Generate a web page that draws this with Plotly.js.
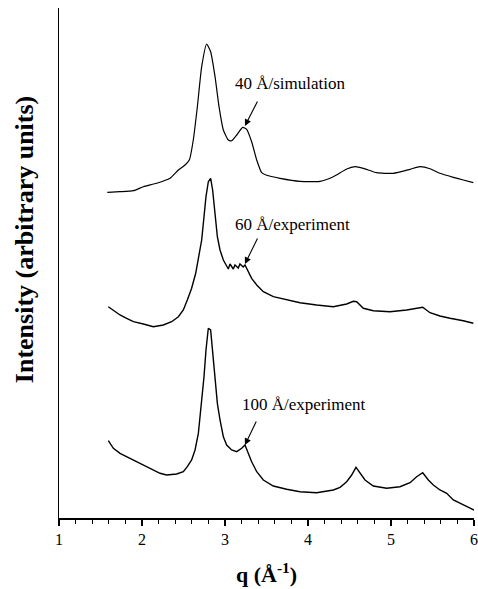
<!DOCTYPE html>
<html>
<head>
<meta charset="utf-8">
<script src="https://cdn.plot.ly/plotly-3.0.1.min.js"></script>
<style>html,body{margin:0;padding:0;background:#fff;}#chart{width:478px;height:589px;}</style>
</head>
<body>
<div id="chart"></div>
<script>
// q values (Å^-1) and intensities (arbitrary units, curves offset vertically)
const qSim = [1.582,1.735,1.896,2.016,2.177,2.337,2.438,2.518,2.570,2.618,2.667,2.719,2.779,2.827,2.880,2.928,2.980,3.040,3.080,3.141,3.213,3.261,3.321,3.382,3.442,3.502,3.663,3.904,4.145,4.305,4.466,4.566,4.667,4.827,5.028,5.229,5.349,5.470,5.590,5.751,5.871,5.992];
const iSim = [325.7,326.3,327.3,331.3,334.7,339.7,348,353,358,378,411.3,451.3,474,466.3,441.3,411.3,388,378,377.3,383,390.7,388.7,376.3,358,345.3,342.7,339.7,336.7,336.7,341.3,349,351.3,349.7,345.3,344.7,348.7,351.3,349.3,344.7,340.7,338,335.3];

const q60 = [1.594,1.675,1.735,1.815,1.896,2.016,2.137,2.257,2.357,2.438,2.498,2.546,2.598,2.647,2.687,2.719,2.747,2.771,2.799,2.827,2.851,2.880,2.908,2.940,2.980,3.020,3.040,3.060,3.080,3.100,3.120,3.141,3.160,3.180,3.201,3.220,3.241,3.281,3.321,3.382,3.462,3.582,3.743,3.904,4.104,4.305,4.466,4.546,4.586,4.667,4.787,4.988,5.189,5.309,5.382,5.470,5.590,5.711,5.871,5.992];
const i60 = [211.3,206.3,203,199.7,196.3,194,191.3,193,196.3,201.3,208,218,229.7,244.7,261.3,278,301.3,321.3,336.3,339.7,328,304.7,281.3,268,258,252,249,254,250.7,249,253,251.3,250,254,252,251,253,246.3,239.7,233,226.3,221.3,218,215.3,213,211.3,214,216.7,216.3,209.7,207.3,206.3,208,209.7,210.7,205.3,202,199.7,197.3,194.7];

const q100 = [1.594,1.655,1.735,1.815,1.896,1.976,2.056,2.137,2.217,2.297,2.418,2.498,2.546,2.598,2.639,2.679,2.719,2.747,2.771,2.799,2.827,2.851,2.880,2.908,2.940,2.980,3.020,3.080,3.141,3.201,3.241,3.281,3.321,3.382,3.462,3.582,3.743,3.904,4.104,4.305,4.386,4.466,4.526,4.578,4.627,4.687,4.787,4.948,5.108,5.229,5.309,5.382,5.450,5.510,5.590,5.671,5.751,5.831,5.912,6.0];
const i100 = [77.3,69.7,64.7,61.3,58,54.7,51.3,48,44.7,43,44,46.3,51.3,58,68,84.7,114.7,141.3,168,189.7,188,168,141.3,114.7,98,81.3,73,68,66.3,69.7,73,64.7,56.3,46.3,38,32,28.7,26.3,25.3,28,30.7,36.3,43,50.7,44.7,38,32,29.7,31.3,35.3,41.3,45.3,38,33,28,24.7,18,14.7,11.3,8];

const labels = ['40 Å/simulation','60 Å/experiment','100 Å/experiment'];
const xTicks = [1,2,3,4,5,6];

const serif = '"Liberation Serif", "Times New Roman", Times, serif';
const simLine = {color:'#000', width:1.2, shape:'spline', smoothing:0.5};
const expLine = {color:'#000', width:1.4};

const traces = [
  {x:qSim, y:iSim, mode:'lines', line:simLine, hoverinfo:'skip'},
  {x:q60, y:i60, mode:'lines', line:expLine, hoverinfo:'skip'},
  {x:q100, y:i100, mode:'lines', line:expLine, hoverinfo:'skip'}
];

const arrowTips = [[3.24,392],[3.24,254],[3.24,73]];
const arrowTails = [[3.40,418],[3.40,281],[3.385,98]];
const textPos = [[3.795,435],[3.81,294],[3.95,114]];

const annotations = [];
for (let k=0;k<3;k++){
  annotations.push({x:textPos[k][0], y:textPos[k][1], xref:'x', yref:'y', text:labels[k], showarrow:false,
    font:{family:serif, size:17, color:'#000'}, xanchor:'center', yanchor:'middle'});
  annotations.push({x:arrowTips[k][0], y:arrowTips[k][1], ax:arrowTails[k][0], ay:arrowTails[k][1],
    xref:'x', yref:'y', axref:'x', ayref:'y', text:'', showarrow:true, arrowhead:2, arrowsize:1.2, arrowwidth:1.1, arrowcolor:'#000'});
}
annotations.push({x:0.5, y:-0.108, xref:'paper', yref:'paper', text:'q (Å<sup>-1</sup>)', showarrow:false,
  font:{family:serif, size:22, color:'#000', weight:'bold'}, xanchor:'center', yanchor:'middle'});
annotations.push({x:-0.084, y:0.545, xref:'paper', yref:'paper', text:'Intensity (arbitrary units)', showarrow:false, textangle:-90,
  font:{family:serif, size:26, color:'#000', weight:'bold'}, xanchor:'center', yanchor:'middle'});

const layout = {
  width:478, height:589,
  margin:{l:59, r:4, t:8, b:71},
  paper_bgcolor:'#fff', plot_bgcolor:'#fff',
  showlegend:false,
  font:{family:serif, color:'#000'},
  xaxis:{range:[1,6], tickvals:xTicks, ticktext:xTicks.map(String), ticks:'outside', ticklen:6, tickwidth:1.2, tickcolor:'#000',
    ticklabeloverflow:'allow',
    minor:{dtick:0.2, tick0:1, ticks:'outside', ticklen:4, tickwidth:1, tickcolor:'#000'},
    showline:true, linecolor:'#000', linewidth:1.5, showgrid:false, zeroline:false,
    tickfont:{family:serif, size:16, color:'#000'}},
  yaxis:{range:[0,510], showline:true, linecolor:'#000', linewidth:1.5, showgrid:false, zeroline:false,
    ticks:'', showticklabels:false},
  annotations:annotations
};

Plotly.newPlot('chart', traces, layout, {displayModeBar:false, staticPlot:true});
</script>
</body>
</html>
